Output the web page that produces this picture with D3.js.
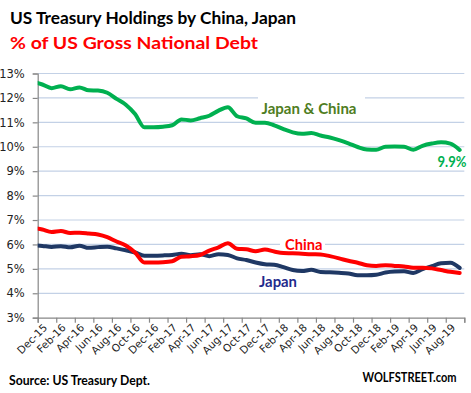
<!DOCTYPE html>
<html><head><meta charset="utf-8">
<script src="https://cdn.jsdelivr.net/npm/d3@7"></script>
<style>body{margin:0;background:#fff}svg{display:block}</style>
</head><body><svg id="c" width="471" height="393"></svg>
<script>
// Months (Nov-15 lies just left of the axis and is clipped, as in the original)
const months = ["Nov-15","Dec-15","Jan-16","Feb-16","Mar-16","Apr-16","May-16","Jun-16","Jul-16","Aug-16","Sep-16","Oct-16","Nov-16","Dec-16",
"Jan-17","Feb-17","Mar-17","Apr-17","May-17","Jun-17","Jul-17","Aug-17","Sep-17","Oct-17","Nov-17","Dec-17",
"Jan-18","Feb-18","Mar-18","Apr-18","May-18","Jun-18","Jul-18","Aug-18","Sep-18","Oct-18","Nov-18","Dec-18",
"Jan-19","Feb-19","Mar-19","Apr-19","May-19","Jun-19","Jul-19","Aug-19","Sep-19"];
const japanChina = [12.66,12.55,12.40,12.48,12.35,12.43,12.31,12.30,12.21,11.96,11.72,11.34,10.80,10.80,10.82,10.88,11.12,11.08,11.17,11.27,11.48,11.62,11.25,11.16,10.98,10.98,10.88,10.72,10.59,10.53,10.56,10.46,10.38,10.27,10.14,9.99,9.89,9.88,10.00,10.01,10.00,9.88,10.04,10.13,10.18,10.13,9.87];
const china = [6.68,6.61,6.51,6.55,6.47,6.48,6.45,6.41,6.30,6.12,5.96,5.67,5.26,5.26,5.27,5.31,5.50,5.52,5.57,5.75,5.88,6.05,5.82,5.80,5.72,5.79,5.71,5.65,5.64,5.62,5.60,5.59,5.52,5.43,5.33,5.25,5.15,5.12,5.15,5.12,5.10,5.05,5.05,5.02,4.95,4.88,4.83];
const japan = [5.97,5.94,5.90,5.93,5.88,5.95,5.86,5.89,5.91,5.84,5.76,5.67,5.54,5.54,5.55,5.57,5.62,5.56,5.60,5.52,5.60,5.57,5.43,5.36,5.26,5.19,5.17,5.07,4.95,4.91,4.96,4.87,4.86,4.84,4.81,4.74,4.74,4.76,4.85,4.89,4.90,4.83,4.99,5.11,5.23,5.25,5.04];
const tickLabels = ["Dec-15","Feb-16","Apr-16","Jun-16","Aug-16","Oct-16","Dec-16","Feb-17","Apr-17","Jun-17","Aug-17","Oct-17","Dec-17","Feb-18","Apr-18","Jun-18","Aug-18","Oct-18","Dec-18","Feb-19","Apr-19","Jun-19","Aug-19"];
const yTicks = [3,4,5,6,7,8,9,10,11,12,13];

const svg = d3.select("#c");
const L = 37.7, R = 464.3, T = 73.5, B = 317.7;
const x = d3.scaleLinear().domain([0.5, months.length - 0.5]).range([L, R]);
const y = d3.scaleLinear().domain([3, 13]).range([B, T]);

// gridlines
const grid = svg.append("g");
grid.selectAll("line").data(yTicks.filter(d => d > 3)).join("line")
  .attr("x1", L).attr("x2", R).attr("y1", d => y(d)).attr("y2", d => y(d))
  .attr("stroke", "#c3d1e6").attr("stroke-width", 1.2);

// y axis
const yAxis = d3.axisLeft(y).tickValues(yTicks).tickSize(5).tickPadding(8).tickFormat(d => d + "%");
const gy = svg.append("g").attr("transform", `translate(${L},0)`).call(yAxis);
gy.select(".domain").attr("stroke", "#878787").attr("stroke-width", 1.2);
gy.selectAll(".tick line").attr("stroke", "#878787").attr("stroke-width", 1.2);
gy.selectAll(".tick text").attr("font-family", "DejaVu Sans, Verdana, sans-serif").attr("font-size", 11.5).attr("fill", "#222");

// x axis: ticks on month boundaries every 2 months
const tickPos = d3.range(0.5, months.length, 2);
const xAxis = d3.axisBottom(x).tickValues(tickPos).tickSize(5).tickFormat("");
const gx = svg.append("g").attr("transform", `translate(0,${B})`).call(xAxis);
gx.select(".domain").attr("stroke", "#878787").attr("stroke-width", 1.2);
gx.selectAll(".tick line").attr("stroke", "#878787").attr("stroke-width", 1.2);

svg.append("g").selectAll("text").data(tickLabels).join("text")
  .attr("transform", d => `translate(${x(months.indexOf(d)) + 3},${B + 8}) rotate(-45)`)
  .attr("text-anchor", "end").attr("dy", "0.35em")
  .attr("font-family", "DejaVu Sans, Verdana, sans-serif").attr("font-size", 10.5).attr("fill", "#222")
  .text(d => d);

// clip
svg.append("clipPath").attr("id", "clip").append("rect").attr("x", L).attr("y", 0).attr("width", R - L + 10).attr("height", 393);

const line = d3.line().x((d, i) => x(i)).y(d => y(d)).curve(d3.curveMonotoneX);

// label boxes (white behind text, interrupting gridlines)
svg.append("rect").attr("x", 258).attr("y", 94).attr("width", 107).attr("height", 24).attr("fill", "#fff");
svg.append("rect").attr("x", 280).attr("y", 236).attr("width", 45).attr("height", 17).attr("fill", "#fff");

const series = [
  {v: japan, c: "#1f3864"},
  {v: china, c: "#ff0000"},
  {v: japanChina, c: "#00b050"}
];
svg.append("g").attr("clip-path", "url(#clip)").selectAll("path").data(series).join("path")
  .attr("d", d => line(d.v)).attr("fill", "none").attr("stroke", d => d.c)
  .attr("stroke-width", 4).attr("stroke-linejoin", "round").attr("stroke-linecap", "round");

function txt(s, xx, yy, size, color, len, anchor) {
  const t = svg.append("text").attr("x", xx).attr("y", yy)
    .attr("font-family", "Lato, 'Open Sans', sans-serif").attr("font-weight", "bold")
    .attr("font-size", size).attr("fill", color).text(s);
  if (len) t.attr("textLength", len).attr("lengthAdjust", "spacingAndGlyphs");
  if (anchor) t.attr("text-anchor", anchor);
  return t;
}
txt("US Treasury Holdings by China, Japan", 10, 23.5, 17.5, "#000", 286);
txt("% of US Gross National Debt", 10, 48.5, 17.5, "#ff0000", 248);
txt("Japan & China", 261.5, 114, 14.5, "#4f7d22", 95);
txt("China", 285, 249.5, 14.5, "#ff0000", 37.5);
txt("Japan", 259, 286.5, 14.5, "#1f2a8c", 38);
txt("9.9%", 437.5, 166.7, 14.5, "#00b050", 29);
txt("Source: US Treasury Dept.", 9, 385, 12.5, "#000", 141);
txt("WOLFSTREET.com", 362.5, 381.7, 12.5, "#000", 94);
</script></body></html>
